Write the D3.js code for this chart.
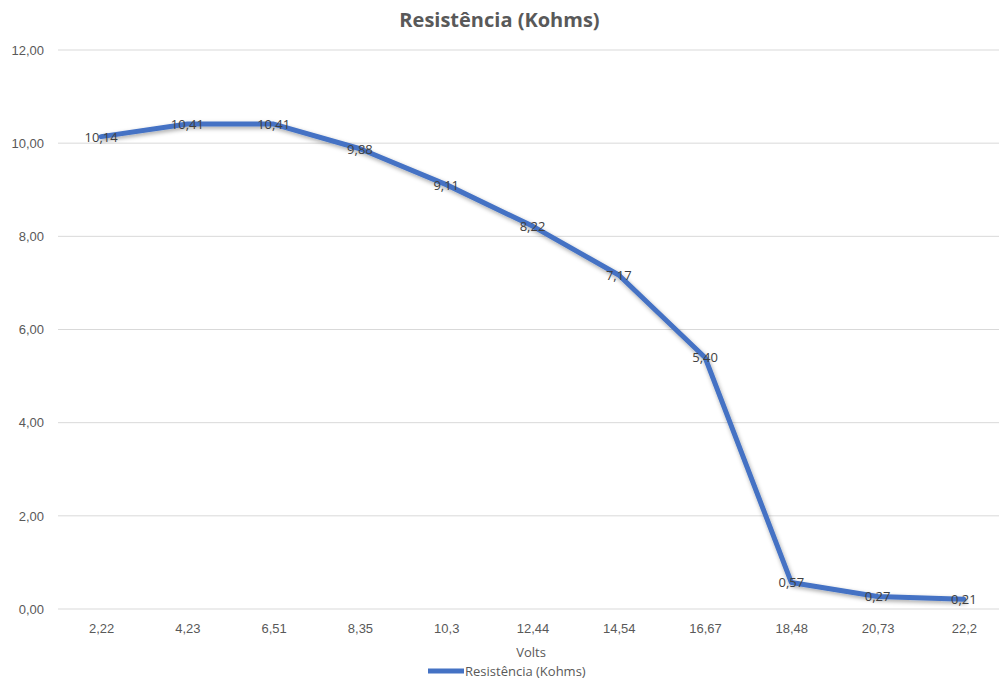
<!DOCTYPE html>
<html lang="pt">
<head>
    <meta charset="UTF-8">
    <title>Resistência (Kohms)</title>
    <script src="https://cdnjs.cloudflare.com/ajax/libs/d3/7.8.5/d3.min.js"></script>
    <style>
        body {
            margin: 0;
            background: #fff;
            font-family: "Open Sans", "Noto Sans", sans-serif;
        }
        .grid line {
            stroke: #d9d9d9;
            stroke-width: 1;
        }
        .tick text {
            fill: #595959;
            font-size: 13px;
        }
    </style>
</head>
<body>
    <div id="chart"></div>
    <script>
        // Chart data
        const volts = ["2,22", "4,23", "6,51", "8,35", "10,3", "12,44", "14,54", "16,67", "18,48", "20,73", "22,2"];
        const resistencia = [10.14, 10.41, 10.41, 9.88, 9.11, 8.22, 7.17, 5.40, 0.57, 0.27, 0.21];
        const yTicks = [0, 2, 4, 6, 8, 10, 12];

        const width = 999;
        const height = 682;
        const margin = { top: 50, right: -8, bottom: 73, left: 58 };

        const svg = d3.select("#chart")
            .append("svg")
            .attr("width", width)
            .attr("height", height);

        const x = d3.scalePoint()
            .domain(volts)
            .range([margin.left, width - margin.right])
            .padding(0.5);

        const y = d3.scaleLinear()
            .domain([0, 12])
            .range([height - margin.bottom, margin.top]);

        const fmt = v => d3.format(".2f")(v).replace(".", ",");

        // Gridlines
        svg.append("g")
            .attr("class", "grid")
            .selectAll("line")
            .data(yTicks)
            .enter()
            .append("line")
            .attr("x1", margin.left)
            .attr("x2", width)
            .attr("y1", d => y(d))
            .attr("y2", d => y(d));

        // Y axis labels
        const yAxis = svg.append("g")
            .attr("transform", `translate(${margin.left - 14},0)`)
            .call(d3.axisLeft(y).tickValues(yTicks).tickFormat(fmt).tickSize(0).tickPadding(0));
        yAxis.select(".domain").remove();

        // X axis labels
        const xAxis = svg.append("g")
            .attr("transform", `translate(0,${y(0)})`)
            .call(d3.axisBottom(x).tickSize(0).tickPadding(15));
        xAxis.select(".domain").remove();

        // Title
        svg.append("text")
            .attr("x", width / 2)
            .attr("y", 27)
            .attr("text-anchor", "middle")
            .style("font-size", "20px")
            .style("font-weight", "bold")
            .style("fill", "#595959")
            .text("Resistência (Kohms)");

        // Axis title
        svg.append("text")
            .attr("x", 531)
            .attr("y", 657)
            .attr("text-anchor", "middle")
            .style("font-size", "13px")
            .style("fill", "#595959")
            .text("Volts");

        // Shadow filter
        const defs = svg.append("defs");
        const filter = defs.append("filter").attr("id", "shadow")
            .attr("x", "-10%").attr("y", "-10%").attr("width", "120%").attr("height", "120%");
        filter.append("feDropShadow")
            .attr("dx", 1).attr("dy", 2).attr("stdDeviation", 2)
            .attr("flood-color", "#000").attr("flood-opacity", 0.35);

        // Line
        const line = d3.line()
            .x((d, i) => x(volts[i]))
            .y(d => y(d));

        svg.append("path")
            .datum(resistencia)
            .attr("d", line)
            .attr("fill", "none")
            .attr("stroke", "#4472c4")
            .attr("stroke-width", 5)
            .attr("stroke-linejoin", "round")
            .attr("stroke-linecap", "round")
            .attr("filter", "url(#shadow)");

        // Data labels
        svg.append("g")
            .selectAll("text")
            .data(resistencia)
            .enter()
            .append("text")
            .attr("x", (d, i) => x(volts[i]))
            .attr("y", d => y(d) + 5)
            .attr("text-anchor", "middle")
            .style("font-size", "13px")
            .style("fill", "#404040")
            .text(d => fmt(d));

        // Legend
        const legend = svg.append("g").attr("transform", "translate(428,671)");
        legend.append("line")
            .attr("x1", 0).attr("x2", 36)
            .attr("stroke", "#4472c4")
            .attr("stroke-width", 5);
        legend.append("text")
            .attr("x", 37)
            .attr("y", 5)
            .style("font-size", "13px")
            .style("fill", "#595959")
            .text("Resistência (Kohms)");
    </script>
</body>
</html>
